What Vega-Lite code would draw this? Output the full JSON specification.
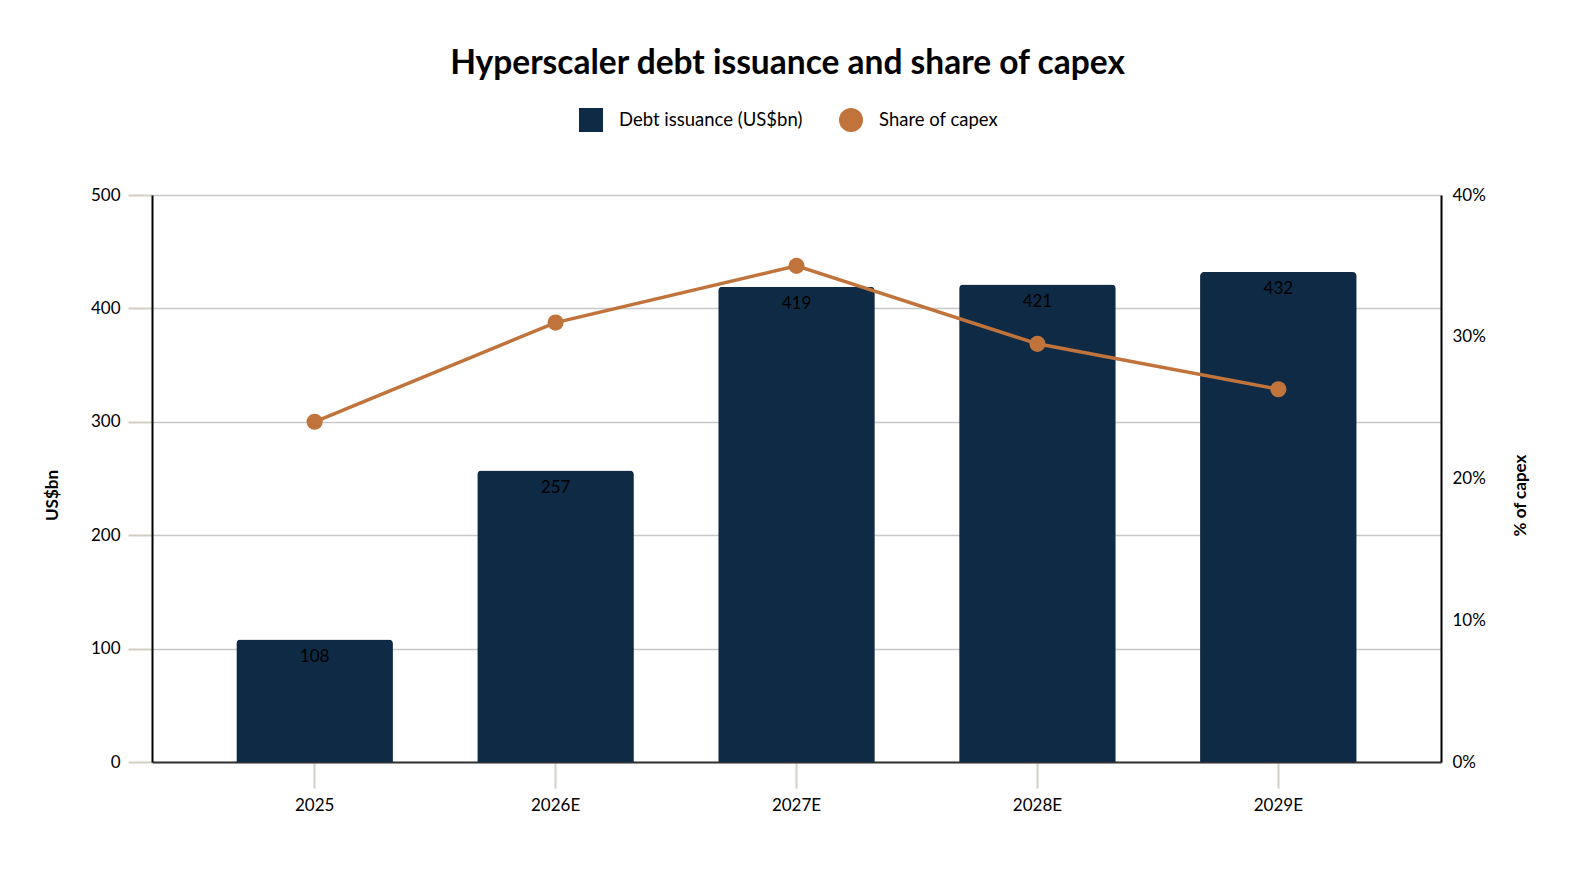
{
  "$schema": "https://vega.github.io/schema/vega-lite/v6.json",
  "width": 1289,
  "height": 567,
  "autosize": {"type": "none"},
  "padding": {"left": 152, "top": 195, "right": 133, "bottom": 107},
  "background": "white",
  "title": {
    "text": "Hyperscaler debt issuance and share of capex",
    "font": "Lato",
    "fontSize": 33.5,
    "fontWeight": "bold",
    "color": "black",
    "anchor": "middle",
    "dx": -9,
    "offset": 27
  },
  "data": {
    "values": [
      {"year": "2025", "debt": 108, "share": 0.24},
      {"year": "2026E", "debt": 257, "share": 0.31},
      {"year": "2027E", "debt": 419, "share": 0.35},
      {"year": "2028E", "debt": 421, "share": 0.295},
      {"year": "2029E", "debt": 432, "share": 0.263}
    ]
  },
  "encoding": {
    "x": {
      "field": "year",
      "type": "nominal",
      "sort": null,
      "title": null,
      "scale": {"paddingInner": 0.35, "paddingOuter": 0.35},
      "axis": {
        "labelAngle": 0,
        "labelFont": "Lato",
        "labelFontSize": 17,
        "labelColor": "black",
        "labelPadding": 9,
        "domainColor": "#333333",
        "domainWidth": 2,
        "tickColor": "#d3cfc5",
        "tickSize": 26,
        "tickWidth": 2
      }
    }
  },
  "layer": [
    {
      "encoding": {
        "y": {
          "field": "debt",
          "type": "quantitative",
          "scale": {"domain": [0, 500]},
          "axis": {
            "orient": "left",
            "values": [0, 100, 200, 300, 400, 500],
            "title": "US$bn",
            "titleFont": "Lato",
            "titleFontSize": 17,
            "titleFontWeight": "bold",
            "titleColor": "black",
            "titleAngle": 270,
            "titleBaseline": "middle",
            "titleX": -100,
            "titleY": 300,
            "labelFont": "Lato",
            "labelFontSize": 17,
            "labelColor": "black",
            "labelPadding": 8,
            "domainColor": "black",
            "domainWidth": 2,
            "tickColor": "#d3cfc5",
            "tickSize": 24,
            "tickWidth": 2,
            "grid": true,
            "gridColor": "#c8c8c8",
            "gridWidth": 1.5
          }
        }
      },
      "layer": [
        {
          "mark": {"type": "bar", "cornerRadiusTopLeft": 4, "cornerRadiusTopRight": 4},
          "encoding": {
            "color": {
              "datum": "Debt issuance (US$bn)",
              "type": "nominal",
              "scale": {
                "domain": ["Debt issuance (US$bn)", "Share of capex"],
                "range": ["#0f2a44", "#c0743c"]
              },
              "legend": {
                "title": null,
                "orient": "none",
                "legendX": 427,
                "legendY": -87,
                "direction": "horizontal",
                "padding": 0,
                "symbolSize": 576,
                "symbolStrokeWidth": 0,
                "labelFont": "Lato",
                "labelFontSize": 18.5,
                "labelColor": "black",
                "labelLimit": 400,
                "labelOffset": 16,
                "columnPadding": 36,
                "encode": {
                  "symbols": {
                    "update": {
                      "shape": {"signal": "datum.value == 'Share of capex' ? 'circle' : 'square'"},
                      "fill": {"signal": "datum.value == 'Share of capex' ? '#c0743c' : '#0f2a44'"},
                      "opacity": {"value": 1}
                    }
                  }
                }
              }
            }
          }
        },
        {
          "mark": {"type": "text", "baseline": "middle", "dy": 17, "font": "Lato", "fontSize": 17, "color": "black"},
          "encoding": {
            "text": {"field": "debt", "type": "quantitative"}
          }
        }
      ]
    },
    {
      "encoding": {
        "y": {
          "field": "share",
          "type": "quantitative",
          "scale": {"domain": [0, 0.4]},
          "axis": {
            "orient": "right",
            "values": [0, 0.1, 0.2, 0.3, 0.4],
            "format": ".0%",
            "title": "% of capex",
            "titleFont": "Lato",
            "titleFontSize": 17,
            "titleFontWeight": "bold",
            "titleColor": "black",
            "titleAngle": 270,
            "titleBaseline": "middle",
            "titleX": 79,
            "titleY": 300,
            "labelFont": "Lato",
            "labelFontSize": 17,
            "labelColor": "black",
            "labelPadding": 11,
            "ticks": false,
            "domainColor": "black",
            "domainWidth": 2,
            "grid": false
          }
        }
      },
      "layer": [
        {
          "mark": {"type": "line", "color": "#c0743c", "strokeWidth": 3.5}
        },
        {
          "mark": {"type": "point", "filled": true, "size": 260, "opacity": 1, "shape": "circle"},
          "encoding": {
            "color": {"datum": "Share of capex", "type": "nominal"}
          }
        }
      ]
    }
  ],
  "resolve": {"scale": {"y": "independent"}},
  "config": {
    "view": {"stroke": null}
  }
}
